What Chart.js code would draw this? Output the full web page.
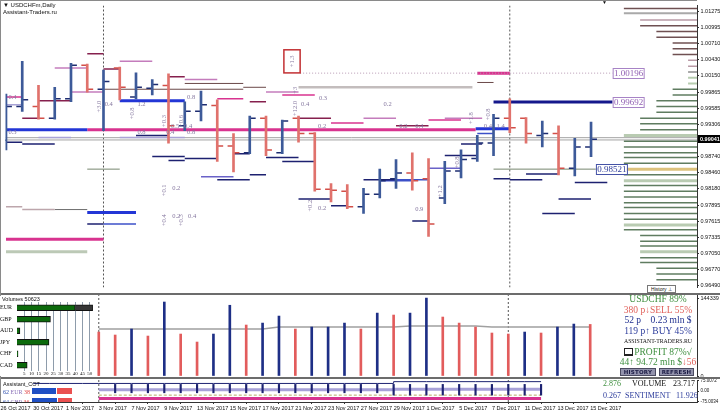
<!DOCTYPE html>
<html lang="en">
<head>
<meta charset="UTF-8">
<meta name="viewport" content="width=720, initial-scale=1.0">
<title>USDCHFm,Daily</title>
<script src="https://cdn.jsdelivr.net/npm/chart.js@4.4.1/dist/chart.umd.min.js"></script>
<style>
    html, body { margin: 0; padding: 0; }
    body {
        width: 720px; height: 414px; position: relative; overflow: hidden;
        background: #fff; color: #111;
        font-family: 'Liberation Sans', Arial, sans-serif;
    }
    .box { position: absolute; left: 0; width: 720px; }
    #mainBox { top: 0; height: 293px; }
    #volBox { top: 295px; height: 84px; }
    #cotBox { top: 379px; height: 35px; }
    .sep { position: absolute; left: 0; width: 720px; height: 2px; background: #6c6c6c; }
    .edge { position: absolute; background: #8a8a8a; }
    .title { position: absolute; left: 3px; font-size: 6px; line-height: 7px; white-space: nowrap; }
    #ccyBox { position: absolute; left: 0; top: 296px; width: 97px; height: 80px; background: #fff; }
    #ccyHead { position: absolute; left: 2px; top: 0; font-size: 5.5px; line-height: 6px; }
    #ccyWrap { position: absolute; left: 0; top: 6px; width: 97px; height: 75px; }
    #info {
        position: absolute; left: 613px; top: 294px; width: 90px; text-align: center;
        font-family: 'Liberation Serif', 'DejaVu Serif', serif; font-size: 9.5px; line-height: 10.5px;
        white-space: nowrap;
    }
    #info .small { font-size: 5.8px; color: #111; }
    .pc { display: inline-block; width: 7px; height: 5px; border: 1px solid #222; border-bottom-width: 2px; margin-right: 1px; vertical-align: -1px; }
    .btn {
        position: absolute; top: 368px; height: 6px; background: #9393ac; border: 1px solid #4b4b60;
        font: bold 5.5px/6px 'DejaVu Sans', sans-serif; color: #1c1c45; text-align: center; letter-spacing: 0.2px;
    }
    #hist {
        position: absolute; left: 647px; top: 285px; width: 27px; height: 6px; background: #fff;
        border: 1px solid #777; font-size: 5px; line-height: 6px; text-align: center;
    }
    .cotTxt { position: absolute; font-family: 'Liberation Serif', serif; font-size: 8px; line-height: 8px; white-space: nowrap; }
    #cotLegend { position: absolute; left: 0; top: 380px; width: 97px; height: 22px; overflow: hidden; }
    #cotLegend .lbl { position: absolute; left: 3px; font-family: 'Liberation Serif', serif; font-size: 6px; line-height: 6px; white-space: nowrap; }
    #cotLegend .bar { position: absolute; height: 6px; }
</style>
</head>
<body>
    <div class="box" id="mainBox"><canvas id="mainChart"></canvas></div>
    <div class="sep" style="top:293px"></div>
    <div class="box" id="volBox"><canvas id="volChart"></canvas></div>
    <div class="box" id="cotBox"><canvas id="cotChart"></canvas></div>
    <div class="sep" style="top:377px"></div>
    <div class="edge" style="left:0;top:0;width:697px;height:1px"></div>
    <div class="edge" style="left:0;top:0;width:1px;height:402px"></div>

    <div class="title" style="top:2px">&#9660; USDCHFm,Daily</div>
    <div class="title" style="top:9px">Assistant-Traders.ru</div>
    <div class="title" style="left:602px;top:-1px;font-size:5px">&#9660;</div>
    <div id="hist">History &#8869;</div>

    <div id="ccyBox">
        <div id="ccyHead">Volumes 50623</div>
        <div id="ccyWrap"><canvas id="ccyChart"></canvas></div>
    </div>

    <div id="info">
        <div style="color:#3f8f3f">USDCHF 89%</div>
        <div style="color:#e0605a">380 p&#8595;SELL 55%</div>
        <div style="color:#1f2f8f">52 p&nbsp;&nbsp;&nbsp; 0.23 mln $</div>
        <div style="color:#2b3b9b">119 p&#8593; BUY 45%</div>
        <div class="small">ASSISTANT-TRADERS.RU</div>
        <div style="color:#3f8f3f"><span class="pc"></span>PROFIT 87%&#8730;</div>
        <div style="color:#3f8f3f">44&#8593; 94.72 mln $<span style="color:#e0605a">&#8595;56</span></div>
    </div>
    <div class="btn" style="left:620px;width:34px">HISTORY</div>
    <div class="btn" style="left:659px;width:33px">REFRESH</div>

    <div id="cotLegend"></div>
    <div class="cotTxt" style="left:603px;top:380px;color:#3f8f3f">2.876</div>
    <div class="cotTxt" style="left:632px;top:380px">VOLUME</div>
    <div class="cotTxt" style="left:673px;top:380px">23.717</div>
    <div class="cotTxt" style="left:603px;top:392px;color:#2b3b9b">0.267</div>
    <div class="cotTxt" style="left:625px;top:392px;color:#2b3b9b">SENTIMENT</div>
    <div class="cotTxt" style="left:676px;top:392px;color:#2b3b9b">11.926</div>

<script>
// ---------- datos ----------
const dates = ['26 Oct 2017','27 Oct 2017','30 Oct 2017','31 Oct 2017','1 Nov 2017','2 Nov 2017','3 Nov 2017',
    '6 Nov 2017','7 Nov 2017','8 Nov 2017','9 Nov 2017','10 Nov 2017','13 Nov 2017','14 Nov 2017','15 Nov 2017',
    '16 Nov 2017','17 Nov 2017','20 Nov 2017','21 Nov 2017','22 Nov 2017','23 Nov 2017','24 Nov 2017','27 Nov 2017',
    '28 Nov 2017','29 Nov 2017','30 Nov 2017','1 Dec 2017','4 Dec 2017','5 Dec 2017','6 Dec 2017','7 Dec 2017',
    '8 Dec 2017','11 Dec 2017','12 Dec 2017','13 Dec 2017','14 Dec 2017','15 Dec 2017'];
const opens  = [0.99025,0.99613,0.99613,0.99411,0.99747,1.00335,0.99915,1.00284,0.99781,0.99932,0.99982,0.99277,0.99529,
    0.99630,0.98924,0.98807,0.99411,0.98807,0.99411,0.99143,0.98169,0.98135,0.97867,0.98085,0.98354,0.98454,0.98354,
    0.98018,0.98488,0.98706,0.98975,0.99411,0.99411,0.99109,0.99143,0.98538,0.98908];
const highs  = [0.99831,1.00402,0.99982,0.99949,1.00368,1.00352,1.00251,1.00300,1.00200,1.00083,1.00184,0.99697,0.99881,
    0.99730,0.99143,0.99445,0.99445,0.99378,0.99445,0.99160,0.98270,0.98253,0.98186,0.98521,0.98689,0.98807,0.98706,
    0.98656,0.98857,0.99109,0.99478,0.99747,0.99420,0.99361,0.99277,0.99059,0.99344];
const lows   = [0.98857,0.99529,0.99395,0.99395,0.99697,0.99865,0.99193,0.99730,0.99747,0.99814,0.98975,0.99193,0.99361,
    0.98656,0.98471,0.98790,0.98757,0.98790,0.98992,0.98135,0.97951,0.97833,0.97749,0.98018,0.98186,0.98152,0.97346,
    0.97917,0.98370,0.98656,0.98757,0.99159,0.98975,0.98908,0.98421,0.98404,0.98740];
const closes = [0.99613,0.99730,0.99411,0.99747,1.00335,0.99915,1.00049,0.99949,0.99949,0.99999,0.99277,0.99529,0.99646,
    0.98924,0.98807,0.99411,0.98857,0.99361,0.99143,0.98169,0.98152,0.97867,0.98085,0.98320,0.98454,0.98320,0.97564,
    0.98488,0.98689,0.98975,0.99411,0.99243,0.99143,0.99143,0.98538,0.98908,0.99041];

const priceTicks = [1.01275,1.00995,1.00710,1.00430,1.00150,0.99865,0.99585,0.99306,0.98740,0.98460,0.98180,
    0.97895,0.97615,0.97335,0.97050,0.96770,0.96490];
const xTickDates = ['26 Oct 2017','30 Oct 2017','1 Nov 2017','3 Nov 2017','7 Nov 2017','9 Nov 2017','13 Nov 2017',
    '15 Nov 2017','17 Nov 2017','21 Nov 2017','23 Nov 2017','27 Nov 2017','29 Nov 2017','1 Dec 2017','5 Dec 2017',
    '7 Dec 2017','11 Dec 2017','13 Dec 2017','15 Dec 2017'];

const markerBars = [6, 31];
const bidAsk = [0.99070, 0.99030];
const priceTags = [1.00196, 0.99692, 0.98521];

// niveles horizontales: [desde barra, hasta barra, precio, tipo]
const levels = [
    [5, 6, 1.00536, 'crim'], [3, 5, 1.00284, 'pink'], [6, 7, 1.00268, 'crim'], [7, 9, 1.00402, 'pink'],
    [10, 11, 1.00133, 'crim'], [11, 13, 1.00083, 'pink'], [11, 14.6, 1.00016, 'brown'], [13, 14.6, 0.99747, 'mag2'],
    [0, 1, 0.99781, 'mag2'], [0, 1, 0.99646, 'lav'], [2, 4, 0.99713, 'crim'], [1, 2, 0.99411, 'crim'],
    [4, 6, 0.99865, 'pink'], [6, 14.6, 0.99915, 'brown'], [7, 11, 0.99713, 'blue3'], [8, 10, 0.99109, 'navy'],
    [2, 4, 0.99075, 'lav'], [0, 5, 0.99210, 'blue3'], [5, 28.9, 0.99210, 'mag3'], [28.9, 31, 0.99227, 'blue3'],
    [14.6, 16, 0.99949, 'brown'], [16, 18, 0.99865, 'pink'], [15, 16, 0.99697, 'crim'], [17, 19, 0.99814, 'mag2'],
    [18, 28.7, 0.99949, 'silver'], [18, 20, 0.99411, 'crim'], [20, 22, 0.99327, 'mag2'], [22, 24, 0.99411, 'pink'],
    [24, 26, 0.99277, 'crim'], [26, 28, 0.99378, 'mag2'], [27, 29.3, 0.99411, 'pink'],
    [18.1, 37.33, 1.00196, 'dotted'], [29, 31, 1.00196, 'mag3'], [30, 37.33, 0.99692, 'navy3'], [29, 30, 1.00033, 'brown'],
    [0, 1, 0.98992, 'navy'], [1, 3, 0.98958, 'navy'], [7, 11, 0.99075, 'lav'], [9, 11, 0.98740, 'navy'],
    [10, 11, 0.98673, 'navy'], [11, 13, 0.98706, 'navy'], [5, 7, 0.98521, 'olive'], [12, 14, 0.98387, 'lavBlue'],
    [13, 15, 0.98337, 'navy'], [0, 1, 0.97867, 'rose'], [1, 3, 0.97816, 'rose'], [3, 5, 0.97816, 'grayDark'],
    [5, 8, 0.97766, 'blue3'], [5, 6, 0.97564, 'navy'], [6, 8, 0.97564, 'blueThin'], [0, 6, 0.97296, 'mag3'],
    [0, 5, 0.97078, 'sage3'], [14, 15, 0.98790, 'navy'], [16, 18, 0.98723, 'navy'], [17, 19, 0.98656, 'navy'],
    [15, 16, 0.98421, 'navy'], [18, 20, 0.98001, 'navy'], [20, 21, 0.97884, 'navy'], [22, 24, 0.98337, 'navy'],
    [23, 25, 0.98320, 'blueThin'], [24, 26, 0.98337, 'blueThin'], [25, 26, 0.97615, 'navy'], [26, 28, 0.98538, 'lavBlue'],
    [27, 29, 0.98757, 'navy'], [28, 29.3, 0.98958, 'navy'], [29, 30, 0.99143, 'blueThin'], [30, 31, 0.98354, 'navy'],
    [31, 33, 0.98337, 'navy'], [32, 34, 0.98438, 'navy'], [33, 35, 0.97749, 'navy'], [34, 36, 0.98001, 'navy'],
    [35, 37, 0.98286, 'navy'], [30, 36.3, 0.98521, 'olive']
];

// perfil de volumen a la derecha (longitud en barras)
const profilePrices = [1.01325,1.01241,1.01124,1.01023,1.00922,1.00822,1.00721,1.00620,1.00519,1.00419,1.00318,
    1.00217,1.00116,1.00016,0.99915,0.99814,0.99714,0.99613,0.99512,0.99411,0.99311,0.99210,0.99109,0.99008,0.98908,
    0.98807,0.98723,0.98622,0.98521,0.98421,0.98320,0.98236,0.98135,0.98035,0.97934,0.97850,0.97749,0.97648,0.97548,
    0.97464,0.97363,0.97262,0.97178,0.97078,0.96977,0.96893,0.96792,0.96691,0.96591];
const profileLen = [4.5,4.5,3.5,3.5,2.5,2.5,1.5,1.5,1.5,0.55,0.55,0.55,0.55,0.55,1.5,1.5,2.5,2.5,2.5,3.5,3.5,3.5,
    4.5,4.5,4.5,4.5,4.5,4.5,4.5,4.5,4.5,4.5,4.5,4.5,4.5,4.5,4.5,4.5,4.5,4.5,3.5,3.5,3.5,3.5,3.5,3.5,2.5,2.5,2.5];

// etiquetas pequeñas: [barra, precio, texto, vertical]
const notes = [
    [0.15, 0.99781, '0.4'], [0.15, 0.99159, '0.3'], [6.07, 0.99646, '0.4'], [5.77, 0.99613, '+3.0', 1],
    [8.09, 0.99646, '1.2'], [7.78, 0.99495, '+0.8', 1], [11.14, 0.99781, '0.8'], [9.74, 0.99361, '+0.3', 1],
    [10.78, 0.99361, '+0.6', 1], [10.16, 0.99277, '0.5'], [10.96, 0.99277, '0.4'], [8.09, 0.99159, '0.8'],
    [9.86, 0.99159, '0.4'], [11.14, 0.99159, '0.8'], [17.8, 0.99898, '+3', 1], [19.26, 0.99764, '0.3'],
    [18.16, 0.99646, '0.4'], [23.23, 0.99646, '0.2'], [17.8, 0.99579, '+12.0', 1], [19.2, 0.99277, '0.2'],
    [24.2, 0.99277, '0.2'], [25.18, 0.99277, '0.4'], [28.66, 0.99411, '+1.8', 1], [19.2, 0.97833, '0.2'],
    [18.71, 0.97884, '+0.2', 1], [25.18, 0.97816, '0.9'], [26.71, 0.98135, '+1.2', 1], [27.75, 0.98639, '+0.8', 1],
    [9.74, 0.98152, '+0.1', 1], [10.23, 0.98186, '0.2'], [9.74, 0.97631, '+0.4', 1], [10.23, 0.97699, '0.2'],
    [10.78, 0.97631, '+0.3', 1], [11.2, 0.97699, '0.4'], [29.7, 0.99478, '+0.8', 1], [29.4, 0.99277, '0.4'],
    [30.19, 0.99277, '1.4']
];

// panel de volúmenes
const volumes = [null,null,null,null,null,null,81400,75900,87000,74000,137000,77700,62900,77700,131000,94400,98000,
    111000,87000,90700,90700,98000,87000,116500,112900,116500,144300,109200,98000,90700,79600,77700,81400,79600,
    90700,96200,95500];
const volMA = [null,null,null,null,null,null,87000,87000,87000,87000,87000,87000,87000,87000,87000,87000,87000,
    90700,90700,90700,90700,90700,90700,90700,90700,92500,92500,92500,92500,92500,90700,90700,90700,90700,90700,
    90700,90700];
const volTicks = [0, 144339];

const currencies = ['EUR', 'GBP', 'AUD', 'JPY', 'CHF', 'CAD'];
const currencyVals = [40, 23, 2, 22, 0.7, 7];
const currencyRest = [12, 0, 0, 0, 0, 0];
const ccyTicks = [5, 10, 15, 20, 25, 30, 35, 40, 45, 50];

// panel COT
const cotTop = [null,null,55,55,55,55,55,55,55,55,55,55,55,55,55,55,55,55,55,55,55,55,55,55,68,68,68,68,68,68,68,
    68,68,68,null,null,null];
const cotNet = [null,null,null,null,null,null,10,10,10,10,10,10,10,10,10,10,10,10,10,10,10,10,10,10,12,12,12,12,
    12,12,12,12,12,12,null,null,null];
const cotOlive = [null,null,null,null,null,null,-30,-30,-30,-30,-30,-30,-30,-30,-30,-30,-30,-30,-30,-30,-30,-30,
    -30,-30,-30,-30,-30,-30,-30,-30,-30,-30,-30,-30,null,null,null];
const cotMag = [null,null,null,null,null,null,-54,-54,-54,-54,-54,-54,-54,-54,-54,-54,-54,-54,-54,-54,-54,-54,
    -54,-54,-54,-54,-54,-54,-54,-54,-54,-54,-54,-54,null,null,null];
const cotTickLo = [null,null,null,null,null,null,null,-13,-13,-13,-13,-13,-13,-13,-13,-13,-13,-13,-13,-13,-13,-13,
    -13,-13,-30,-30,-30,-30,-30,-30,-30,-30,-30,-30,null,null,null];
const cotTickHi = [null,null,null,null,null,null,null,48,48,48,48,48,48,48,48,48,48,48,48,48,48,48,48,48,48,48,
    48,48,48,48,48,48,48,48,null,null,null];
const cotTicks = [75.0072, 0, -75.0034];
const cotLegend = [['EUR', 62, 38], ['GBP', 64, 36]];

// ---------- estilos ----------
const X_MIN = -0.03, X_MAX = 42.52, TICK = 0.18;
const Y_MIN = 0.96456, Y_MAX = 1.01376;
const upBar = '#3d5a99', upTick = '#1d2c70', dnBar = '#e0726c', dnTick = '#d24f48';
const levelStyle = {
    crim: ['#86204e', 1.5], pink: ['#c47cbc', 1.5], brown: ['#6a4848', 1], mag2: ['#d8338f', 1.5], mag3: ['#d8338f', 3],
    lav: ['#a9a3d6', 1.5], lavBlue: ['#6a62c8', 1.5], navy: ['#1d2170', 1.5], navy3: ['#15188c', 3], blue3: ['#2336d6', 3],
    blueThin: ['#3c50c8', 1.5], silver: ['#c3bdbd', 2.5], olive: ['#76876e', 1], rose: ['#bda6ac', 1.5],
    grayDark: ['#6e6e6e', 1], sage3: ['#bcc9b6', 3], dotted: ['#b99bb4', 1, [1, 2]]
};
function profileStyle(i, p) {
    if (i === 1 || i === 11) return ['#a9a9a9', 2];
    if (i === 2 || i === 9 || i === 10) return ['#b99aa6', 1.5];
    if (p > 1.0026) return ['#6f5052', 1.5];
    if (i === 12 || i === 13) return ['#b7cdb0', 2];
    if ([22, 30, 38, 43].includes(i)) return ['#b9cbb2', 3];
    if (i === 28) return ['#dcc27c', 3];
    return ['#5f7c60', 1.5];
}
const tagSpots = [37.33, 37.33, 36.3];
const tagStroke = ['#a783c6', '#a783c6', '#4452a6'];
const tagText = ['#9160b3', '#9160b3', '#2e3c9a'];

Chart.defaults.font.family = "'Liberation Sans', Arial, sans-serif";
Chart.defaults.animation = false;
Chart.defaults.events = [];
Chart.defaults.maintainAspectRatio = false;
Chart.defaults.plugins.legend.display = false;
Chart.defaults.plugins.tooltip.enabled = false;

const seg = (x0, x1, v) => [{x: x0, y: v}, {x: x1, y: v}];
const lineDs = (data, color, width, extra) => Object.assign({
    type: 'line', data, borderColor: color, borderWidth: width, pointRadius: 0, fill: false, tension: 0
}, extra || {});
const rightAxis = (min, max, ticks, fmt, size) => ({
    position: 'right', min, max,
    afterBuildTicks: s => { s.ticks = ticks.map(v => ({value: v})); },
    afterFit: s => { s.width = 23; s.paddingTop = 0; s.paddingBottom = 0; },
    ticks: { autoSkip: false, font: {size}, color: '#111', padding: 1.5, callback: fmt },
    grid: { drawOnChartArea: false, tickLength: 2, color: '#333' },
    border: { color: '#333', width: 1 }
});
const hiddenX = { type: 'linear', min: X_MIN, max: X_MAX, offset: false, display: false };

// ---------- gráfico principal ----------
const isUp = closes.map((c, i) => c >= opens[i]);
const mainSets = [
    { type: 'bar', data: dates.map((d, i) => ({x: i, y: [lows[i], highs[i]]})),
      backgroundColor: isUp.map(u => u ? upBar : dnBar), barThickness: 2, order: 0 },
    { type: 'line', showLine: false, data: opens.map((o, i) => ({x: i - TICK, y: o})),
      pointStyle: 'line', pointRadius: 3, pointBorderWidth: 1.5,
      pointBorderColor: isUp.map(u => u ? upTick : dnTick), order: 0 },
    { type: 'line', showLine: false, data: closes.map((c, i) => ({x: i + TICK, y: c})),
      pointStyle: 'line', pointRadius: 3, pointBorderWidth: 1.5,
      pointBorderColor: isUp.map(u => u ? upTick : dnTick), order: 0 }
];
levels.forEach(([s, e, p, k]) => {
    const st = levelStyle[k];
    mainSets.push(lineDs(seg(s, e, p), st[0], st[1], { borderDash: st[2] || [], order: 3 }));
});
profilePrices.forEach((p, i) => {
    const st = profileStyle(i, p);
    mainSets.push(lineDs(seg(X_MAX - profileLen[i], X_MAX, p), st[0], st[1], { order: 4 }));
});
bidAsk.forEach(p => mainSets.push(lineDs(seg(X_MIN, X_MAX, p), '#a4a4a4', 1, { order: 5 })));
markerBars.forEach(b => mainSets.push(lineDs([{x: b, y: Y_MIN}, {x: b, y: Y_MAX}], '#555', 1, { borderDash: [2, 2], order: 6 })));

const tagsPlugin = {
    id: 'tags',
    afterDatasetsDraw(chart) {
        const {ctx, chartArea, scales: {x, y}} = chart;
        ctx.save();
        // etiquetas pequeñas
        ctx.font = '6.5px "Liberation Serif"';
        ctx.fillStyle = '#85779f';
        notes.forEach(([b, p, t, rot]) => {
            const px = x.getPixelForValue(b), py = y.getPixelForValue(p);
            ctx.textBaseline = 'middle';
            if (rot) {
                ctx.save();
                ctx.translate(px, py);
                ctx.rotate(-Math.PI / 2);
                ctx.textAlign = 'center';
                ctx.fillText(t, 0, 0);
                ctx.restore();
            } else {
                ctx.textAlign = 'left';
                ctx.fillText(t, px, py);
            }
        });
        // recuadro rojo
        const rx0 = x.getPixelForValue(17.1), rx1 = x.getPixelForValue(18.1);
        const ry0 = y.getPixelForValue(1.00603), ry1 = y.getPixelForValue(1.00200);
        ctx.strokeStyle = '#c23033';
        ctx.lineWidth = 1.5;
        ctx.strokeRect(rx0, ry0, rx1 - rx0, ry1 - ry0);
        ctx.save();
        ctx.translate((rx0 + rx1) / 2, (ry0 + ry1) / 2);
        ctx.rotate(-Math.PI / 2);
        ctx.textAlign = 'center';
        ctx.fillText('+1.3', 0, 0);
        ctx.restore();
        // precios en recuadro
        ctx.font = '9px "Liberation Serif"';
        priceTags.forEach((p, i) => {
            const left = x.getPixelForValue(tagSpots[i]);
            const py = Math.round(y.getPixelForValue(p));
            ctx.fillStyle = '#fff';
            ctx.fillRect(left, py - 5, 31, 10);
            ctx.strokeStyle = tagStroke[i];
            ctx.lineWidth = 1;
            ctx.strokeRect(left + 0.5, py - 4.5, 31, 10);
            ctx.fillStyle = tagText[i];
            ctx.textAlign = 'center';
            ctx.textBaseline = 'middle';
            ctx.fillText(p.toFixed(5), left + 16, py + 0.5);
        });
        // último precio en el eje
        const lp = closes[closes.length - 1];
        const ly = Math.round(y.getPixelForValue(lp));
        ctx.fillStyle = '#000';
        ctx.fillRect(chartArea.right + 1, ly - 4, 22, 8);
        ctx.fillStyle = '#fff';
        ctx.font = 'bold 5.5px "Liberation Sans"';
        ctx.textAlign = 'left';
        ctx.fillText(lp.toFixed(5), chartArea.right + 3, ly);
        ctx.restore();
    }
};

new Chart(document.getElementById('mainChart'), {
    type: 'bar',
    data: { datasets: mainSets },
    options: {
        layout: { padding: 0 },
        scales: {
            x: hiddenX,
            y: rightAxis(Y_MIN, Y_MAX, priceTicks, v => v.toFixed(5), 5.5)
        }
    },
    plugins: [tagsPlugin]
});

// ---------- volúmenes ----------
const volColor = volumes.map((v, i) => (i > 0 && volumes[i - 1] != null && v >= volumes[i - 1]) ? '#1e2f86' : '#e25c5c');
const volSets = [
    { type: 'bar', data: volumes.map((v, i) => ({x: i, y: v})), backgroundColor: volColor, barThickness: 2, order: 0 },
    lineDs(volMA.map((v, i) => ({x: i, y: v})), '#a0a0a0', 1.5, { order: 1 })
];
markerBars.forEach(b => volSets.push(lineDs([{x: b, y: 0}, {x: b, y: 150000}], '#555', 1, { borderDash: [2, 2], order: 2 })));
new Chart(document.getElementById('volChart'), {
    type: 'bar',
    data: { datasets: volSets },
    options: {
        layout: { padding: { bottom: 3 } },
        scales: {
            x: hiddenX,
            y: rightAxis(0, 150000, volTicks, v => String(Math.round(v)), 5.5)
        }
    }
});

// ---------- monedas ----------
new Chart(document.getElementById('ccyChart'), {
    type: 'bar',
    data: {
        labels: currencies,
        datasets: [
            { data: currencyVals, backgroundColor: '#0c6a0c', borderColor: '#111', borderWidth: 1, barThickness: 6, stack: 's' },
            { data: currencyRest, backgroundColor: '#363636', borderColor: '#111', borderWidth: 1, barThickness: 6, stack: 's' }
        ]
    },
    options: {
        indexAxis: 'y',
        layout: { padding: 0 },
        scales: {
            x: {
                stacked: true, min: 0, max: 55,
                afterBuildTicks: s => { s.ticks = ccyTicks.map(v => ({value: v})); },
                afterFit: s => { s.height = 6; s.paddingLeft = 0; s.paddingRight = 0; },
                ticks: { autoSkip: false, font: {size: 5, family: "'Liberation Serif'"}, color: '#111', padding: 0, maxRotation: 0 },
                grid: { color: '#8e9cab', drawTicks: false },
                border: { display: false }
            },
            y: {
                stacked: true,
                afterFit: s => { s.width = 17; s.paddingTop = 0; s.paddingBottom = 0; },
                ticks: { font: {size: 6, family: "'Liberation Serif'"}, color: '#111', padding: 0, crossAlign: 'far' },
                grid: { display: false },
                border: { display: false }
            }
        }
    }
});

// ---------- COT ----------
const cotSets = [
    { type: 'bar', data: cotTickLo.map((v, i) => ({x: i, y: v == null ? null : [v, cotTickHi[i]]})),
      backgroundColor: '#1d2372', barThickness: 1.5, order: 0 },
    lineDs(cotTop.map((v, i) => ({x: i, y: v})), '#1d2372', 1, { stepped: true, order: 1 }),
    lineDs(cotNet.map((v, i) => ({x: i, y: v})), '#a7a1d8', 3, { stepped: true, order: 2 }),
    lineDs(cotOlive.map((v, i) => ({x: i, y: v})), '#b6a860', 1, { borderDash: [3, 2], order: 2 }),
    lineDs(cotMag.map((v, i) => ({x: i, y: v})), '#d8338f', 3, { order: 2 })
];
markerBars.forEach(b => cotSets.push(lineDs([{x: b, y: -80}, {x: b, y: 80}], '#555', 1, { borderDash: [2, 2], order: 3 })));
new Chart(document.getElementById('cotChart'), {
    type: 'bar',
    data: { datasets: cotSets },
    options: {
        layout: { padding: { top: 1 } },
        scales: {
            x: {
                type: 'linear', min: X_MIN, max: X_MAX, offset: false,
                afterBuildTicks: s => { s.ticks = xTickDates.map(d => ({value: dates.indexOf(d)})); },
                afterFit: s => { s.height = 12; s.paddingLeft = 0; s.paddingRight = 0; },
                ticks: { autoSkip: false, align: 'start', maxRotation: 0, font: {size: 5.5}, color: '#111', padding: 1,
                         callback: v => dates[v] },
                grid: { drawOnChartArea: false, tickLength: 2, color: '#333' },
                border: { color: '#333' }
            },
            y: rightAxis(-80, 80, cotTicks, v => v === 0 ? '0.00' : v.toFixed(4), 4.5)
        }
    }
});

// leyenda COT
const legend = document.getElementById('cotLegend');
legend.innerHTML = '<div class="lbl" style="top:1px;font-family:Liberation Sans;font-size:5.5px">Assistant_COT</div>';
cotLegend.forEach(([name, longP, shortP], r) => {
    const top = 8 + r * 10;
    legend.innerHTML +=
        '<div class="lbl" style="top:' + (top + 1) + 'px"><span style="color:#2d4fae">' + longP + '</span> ' +
        '<span style="color:#8a70b8">' + name + '</span> <span style="color:#e04848">' + shortP + '</span></div>' +
        '<div class="bar" style="left:32px;top:' + top + 'px;width:' + (longP * 0.39) + 'px;background:#1f4fc4"></div>' +
        '<div class="bar" style="left:' + (33 + longP * 0.39) + 'px;top:' + top + 'px;width:' + (shortP * 0.39) + 'px;background:#ea5050"></div>';
});
</script>
</body>
</html>
